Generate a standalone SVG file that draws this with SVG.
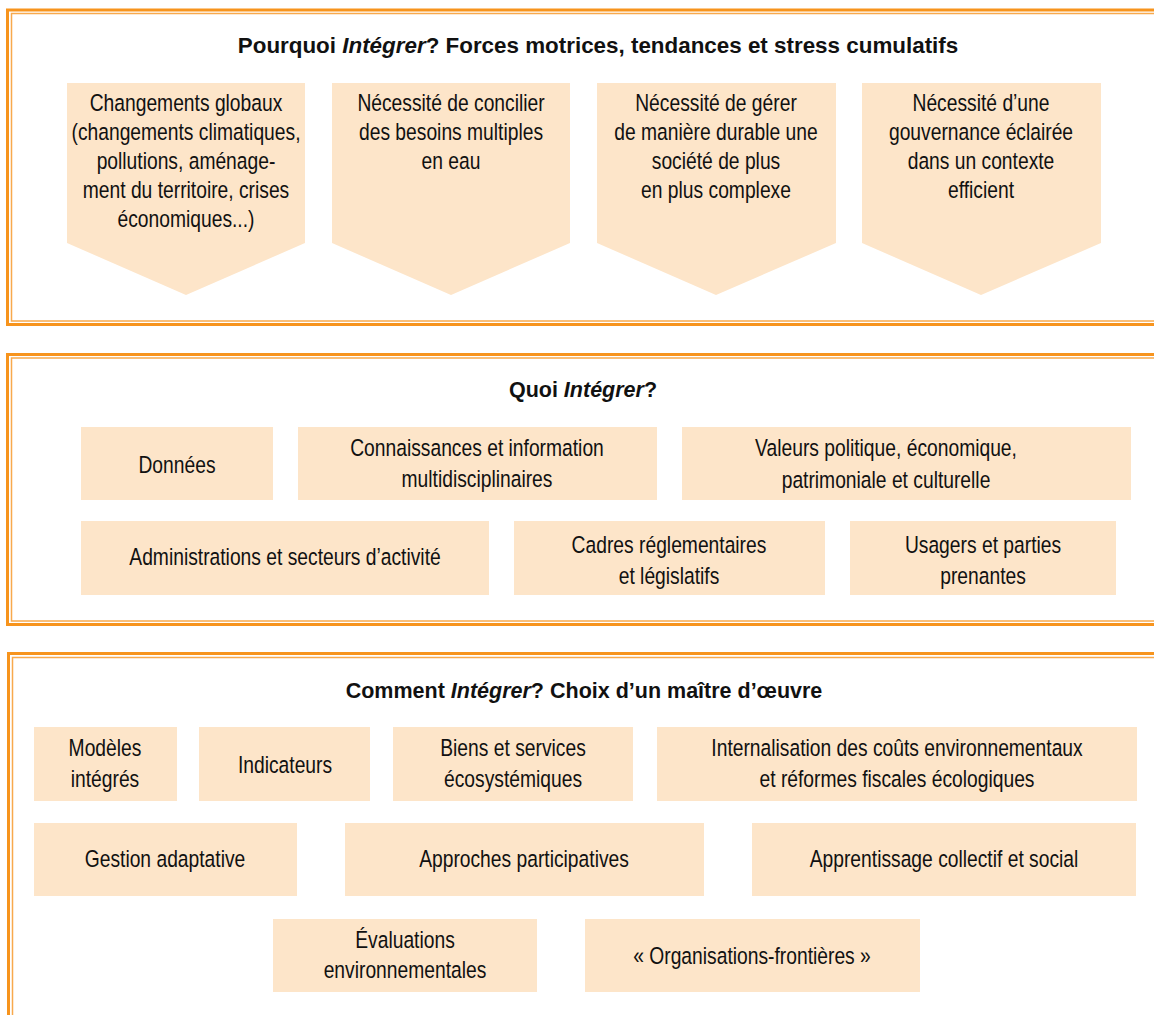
<svg xmlns="http://www.w3.org/2000/svg" width="1154" height="1015" viewBox="0 0 1154 1015">
<style>
.thick{stroke:#F7941D;stroke-width:3;fill:none}
.thin{stroke:#F8A94C;stroke-width:1.5;fill:none}
.box{fill:#FDE5C9}
.t{font-family:"Liberation Sans",Arial,sans-serif;font-size:23.5px;fill:#111;text-anchor:middle}
.h{font-family:"Liberation Sans",Arial,sans-serif;font-size:21.5px;font-weight:bold;fill:#111;text-anchor:middle}
</style>
<rect width="1154" height="1015" fill="#fff"/>
<g id="frames">
<path class="thick" d="M1154,10 H7.5 V324.5 H1154"/>
<path class="thin" d="M1154,13.5 H11.5 V321 H1154"/>
<path class="thick" d="M1154,354.5 H7.5 V624.5 H1154"/>
<path class="thin" d="M1154,358 H11.5 V621 H1154"/>
<path class="thick" d="M1154,653.5 H8.5 V1015"/>
<path class="thin" d="M1154,657.5 H12.5 V1015"/>
</g>
<g id="title1"><text class="h" x="598" y="53" style="font-size:22.4px">Pourquoi <tspan font-style="italic">Intégrer</tspan>? Forces motrices, tendances et stress cumulatifs</text></g>
<g id="title2"><text class="h" x="583" y="397">Quoi <tspan font-style="italic">Intégrer</tspan>?</text></g>
<g id="title3"><text class="h" x="584" y="698">Comment <tspan font-style="italic">Intégrer</tspan>? Choix d’un maître d’œuvre</text></g>
<g id="p1"><polygon class="box" points="67,83 305,83 305,243 186,295 67,243"/>
<g transform="translate(186 0) scale(0.82 1)"><text class="t" x="0" y="111">Changements globaux</text><text class="t" x="0" y="140">(changements climatiques,</text><text class="t" x="0" y="169">pollutions, aménage-</text><text class="t" x="0" y="198">ment du territoire, crises</text><text class="t" x="0" y="227">économiques...)</text></g></g>
<g id="p2"><polygon class="box" points="332,83 570,83 570,243 451,295 332,243"/>
<g transform="translate(451 0) scale(0.82 1)"><text class="t" x="0" y="111">Nécessité de concilier</text><text class="t" x="0" y="140">des besoins multiples</text><text class="t" x="0" y="169">en eau</text></g></g>
<g id="p3"><polygon class="box" points="597,83 836,83 836,243 716,295 597,243"/>
<g transform="translate(716 0) scale(0.82 1)"><text class="t" x="0" y="111">Nécessité de gérer</text><text class="t" x="0" y="140">de manière durable une</text><text class="t" x="0" y="169">société de plus</text><text class="t" x="0" y="198">en plus complexe</text></g></g>
<g id="p4"><polygon class="box" points="862,83 1101,83 1101,243 981,295 862,243"/>
<g transform="translate(981 0) scale(0.82 1)"><text class="t" x="0" y="111">Nécessité d’une</text><text class="t" x="0" y="140">gouvernance éclairée</text><text class="t" x="0" y="169">dans un contexte</text><text class="t" x="0" y="198">efficient</text></g></g>
<g id="q1"><rect class="box" x="81" y="427" width="192" height="73"/><g transform="translate(177 0) scale(0.82 1)"><text class="t" x="0" y="473">Données</text></g></g>
<g id="q2"><rect class="box" x="298" y="427" width="359" height="73"/><g transform="translate(477 0) scale(0.82 1)"><text class="t" x="0" y="456">Connaissances et information</text><text class="t" x="0" y="487">multidisciplinaires</text></g></g>
<g id="q3"><rect class="box" x="682" y="427" width="449" height="73"/><g transform="translate(886 0) scale(0.82 1)"><text class="t" x="0" y="456">Valeurs politique, économique,</text><text class="t" x="0" y="488">patrimoniale et culturelle</text></g></g>
<g id="q4"><rect class="box" x="81" y="521" width="408" height="74"/><g transform="translate(285 0) scale(0.82 1)"><text class="t" x="0" y="565">Administrations et secteurs d’activité</text></g></g>
<g id="q5"><rect class="box" x="514" y="521" width="311" height="74"/><g transform="translate(669 0) scale(0.82 1)"><text class="t" x="0" y="553">Cadres réglementaires</text><text class="t" x="0" y="584">et législatifs</text></g></g>
<g id="q6"><rect class="box" x="850" y="521" width="266" height="74"/><g transform="translate(983 0) scale(0.82 1)"><text class="t" x="0" y="553">Usagers et parties</text><text class="t" x="0" y="584">prenantes</text></g></g>
<g id="c1"><rect class="box" x="34" y="727" width="143" height="74"/><g transform="translate(105 0) scale(0.82 1)"><text class="t" x="0" y="756">Modèles</text><text class="t" x="0" y="787">intégrés</text></g></g>
<g id="c2"><rect class="box" x="199" y="727" width="171" height="74"/><g transform="translate(285 0) scale(0.82 1)"><text class="t" x="0" y="773">Indicateurs</text></g></g>
<g id="c3"><rect class="box" x="393" y="727" width="240" height="74"/><g transform="translate(513 0) scale(0.82 1)"><text class="t" x="0" y="756">Biens et services</text><text class="t" x="0" y="787">écosystémiques</text></g></g>
<g id="c4"><rect class="box" x="657" y="727" width="480" height="74"/><g transform="translate(897 0) scale(0.82 1)"><text class="t" x="0" y="756">Internalisation des coûts environnementaux</text><text class="t" x="0" y="787">et réformes fiscales écologiques</text></g></g>
<g id="c5"><rect class="box" x="34" y="823" width="263" height="73"/><g transform="translate(165 0) scale(0.82 1)"><text class="t" x="0" y="867">Gestion adaptative</text></g></g>
<g id="c6"><rect class="box" x="345" y="823" width="359" height="73"/><g transform="translate(524 0) scale(0.82 1)"><text class="t" x="0" y="867">Approches participatives</text></g></g>
<g id="c7"><rect class="box" x="752" y="823" width="384" height="73"/><g transform="translate(944 0) scale(0.82 1)"><text class="t" x="0" y="867">Apprentissage collectif et social</text></g></g>
<g id="c8"><rect class="box" x="273" y="919" width="264" height="73"/><g transform="translate(405 0) scale(0.82 1)"><text class="t" x="0" y="948">Évaluations</text><text class="t" x="0" y="978">environnementales</text></g></g>
<g id="c9"><rect class="box" x="585" y="919" width="335" height="73"/><g transform="translate(752 0) scale(0.82 1)"><text class="t" x="0" y="964">« Organisations-frontières »</text></g></g>
<g id="connectors"></g>
</svg>
